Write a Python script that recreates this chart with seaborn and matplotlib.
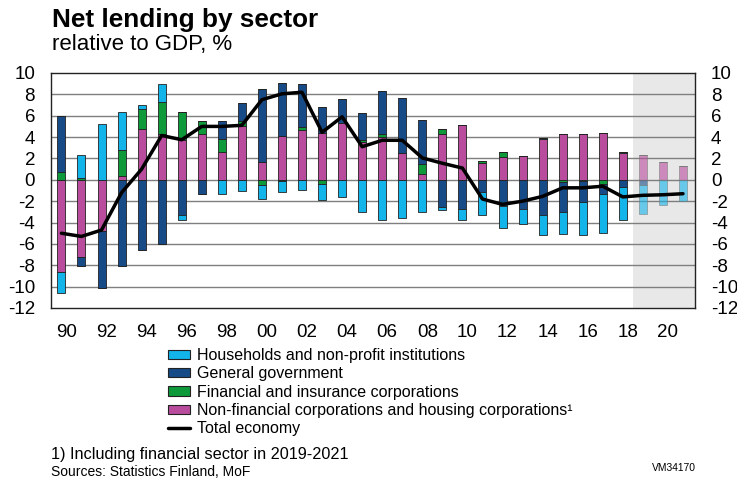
import numpy as np
import pandas as pd
import matplotlib
matplotlib.use('Agg')
import matplotlib.pyplot as plt
import matplotlib.transforms as mtransforms
import seaborn as sns
from matplotlib.patches import Patch
from matplotlib.lines import Line2D

# data, % of GDP
years = list(range(1990, 2022))
households = [-2.0, 2.1, 5.25, 3.5, 0.4, 1.7, -0.45, 0.0, -1.3, -1.05, -1.35, -1.0, -0.95, -1.5, -1.6, -3.0,
              -3.75, -3.6, -3.0, -0.25, -1.05, -2.15, -2.05, -1.4, -1.9, -2.0, -3.05, -3.65, -3.1, -2.75, -2.4, -2.0]
government = [5.3, -0.9, -5.35, -8.1, -6.55, -6.0, -3.3, -1.3, 1.7, 1.7, 6.85, 5.0, 4.1, 2.4, 2.25, 2.6,
              4.1, 5.2, 4.15, -2.55, -2.7, -1.1, -2.45, -2.7, -3.3, -2.8, -2.0, -0.95, -0.65, -0.45, 0.0, 0.0]
financial = [0.7, 0.2, 0.0, 2.45, 1.8, 3.05, 2.6, 1.25, 1.2, 0.5, -0.45, -0.1, 0.2, -0.35, 0.0, 0.2,
             0.25, 0.0, 0.9, 0.45, 0.0, 0.2, 0.5, 0.0, 0.1, -0.25, -0.1, -0.35, 0.1, 0.0, 0.0, 0.0]
nonfinancial = [-8.6, -7.2, -4.8, 0.37, 4.8, 4.25, 3.75, 4.3, 2.6, 5.0, 1.65, 4.1, 4.7, 4.4, 5.35, 3.5,
                4.0, 2.5, 0.55, 4.3, 5.15, 1.55, 2.1, 2.2, 3.85, 4.25, 4.3, 4.4, 2.5, 2.3, 1.65, 1.3]
total = [-5.0, -5.3, -4.7, -1.2, 1.0, 4.15, 3.75, 5.0, 5.0, 5.1, 7.5, 8.05, 8.2, 4.45, 5.9, 3.1,
         3.7, 3.7, 2.05, 1.55, 1.1, -1.8, -2.3, -2.0, -1.55, -0.75, -0.75, -0.6, -1.6, -1.45, -1.4, -1.3]
first_forecast = 2019

labels = ['Households and non-profit institutions', 'General government',
          'Financial and insurance corporations',
          'Non-financial corporations and housing corporations\u00b9']
colors = ['#12b4ea', '#174b88', '#0e9a3a', '#b94c9d']
# stacking order from zero outwards
stack = [(nonfinancial, colors[3]), (financial, colors[2]), (government, colors[1]), (households, colors[0])]

sns.set_style('white')
plt.rcParams['font.family'] = ['Liberation Sans', 'DejaVu Sans']
plt.rcParams['axes.unicode_minus'] = False
plt.rcParams['text.color'] = 'black'
plt.rcParams['xtick.color'] = 'black'
plt.rcParams['ytick.color'] = 'black'

fig = plt.figure(figsize=(7.37, 4.82), dpi=100)
ax = fig.add_axes([51 / 737, 1 - 308 / 482, 644 / 737, 235 / 482])

ax.axvspan(first_forecast - 0.5, 2021.6, color='#e8e8e8', zorder=0, lw=0)
for yv in range(-10, 10, 2):
    ax.axhline(yv, color='#7f7f7f', lw=1.0, zorder=1)

x = np.array(years)
fc = x >= first_forecast
pos_base = np.zeros(len(years))
neg_base = np.zeros(len(years))
for vals, col in stack:
    v = np.array(vals)
    p = np.where(v > 0, v, 0)
    n = np.where(v < 0, v, 0)
    for mask, alpha, ec in [(~fc, 1.0, '#222222'), (fc, 0.6, '#777777')]:
        ax.bar(x[mask], p[mask], bottom=pos_base[mask], width=0.4, color=col, alpha=alpha,
               edgecolor=ec, lw=0.6, zorder=2)
        ax.bar(x[mask], n[mask], bottom=neg_base[mask], width=0.4, color=col, alpha=alpha,
               edgecolor=ec, lw=0.6, zorder=2)
    pos_base += p
    neg_base += n

df = pd.DataFrame({'year': years, 'total': total})
sns.lineplot(data=df, x='year', y='total', color='black', lw=2.5, ax=ax, zorder=3)

ax.set_xlim(1989.48, 2021.6)
ax.set_ylim(-12, 10)
ax.set_yticks(range(-12, 11, 2))
ax.set_xticks(range(1990, 2021, 2))
ax.set_xticklabels([f'{y % 100:02d}' for y in range(1990, 2021, 2)])
ax.set_xlabel('')
ax.set_ylabel('')
ax.tick_params(axis='y', labelsize=13.5, left=False, right=False, labelleft=True, labelright=True, pad=8)
ax.tick_params(axis='x', labelsize=13.5, bottom=False, pad=8)
# year labels sit a little right of the bar centres in the original
shift = mtransforms.ScaledTranslation(5 / 100, 0, fig.dpi_scale_trans)
for lab in ax.get_xticklabels():
    lab.set_transform(lab.get_transform() + shift)
for s in ax.spines.values():
    s.set_color('#222222')
    s.set_linewidth(1.0)

fig.text(52 / 737, 1 - 27 / 482, 'Net lending by sector', fontsize=18.8, fontweight='bold', va='baseline')
fig.text(52 / 737, 1 - 50 / 482, 'relative to GDP, %', fontsize=16, va='baseline')

handles = [Patch(facecolor=c, edgecolor='#222222', lw=0.8) for c in colors]
handles.append(Line2D([0], [0], color='black', lw=2.5))
fig.legend(handles, labels + ['Total economy'], loc='upper left', bbox_to_anchor=(168 / 737, 1 - 348 / 482),
           frameon=False, fontsize=11.5, handlelength=1.4, handleheight=0.5, handletextpad=0.4,
           labelspacing=0.21, borderaxespad=0, borderpad=0)

fig.text(51 / 737, 1 - 458.5 / 482, '1) Including financial sector in 2019-2021', fontsize=11.7, va='baseline')
fig.text(51 / 737, 1 - 476 / 482, 'Sources: Statistics Finland, MoF', fontsize=10, va='baseline')
fig.text(652 / 737, 1 - 471 / 482, 'VM34170', fontsize=7.4, va='baseline')

fig.savefig('out.png', dpi=100)
